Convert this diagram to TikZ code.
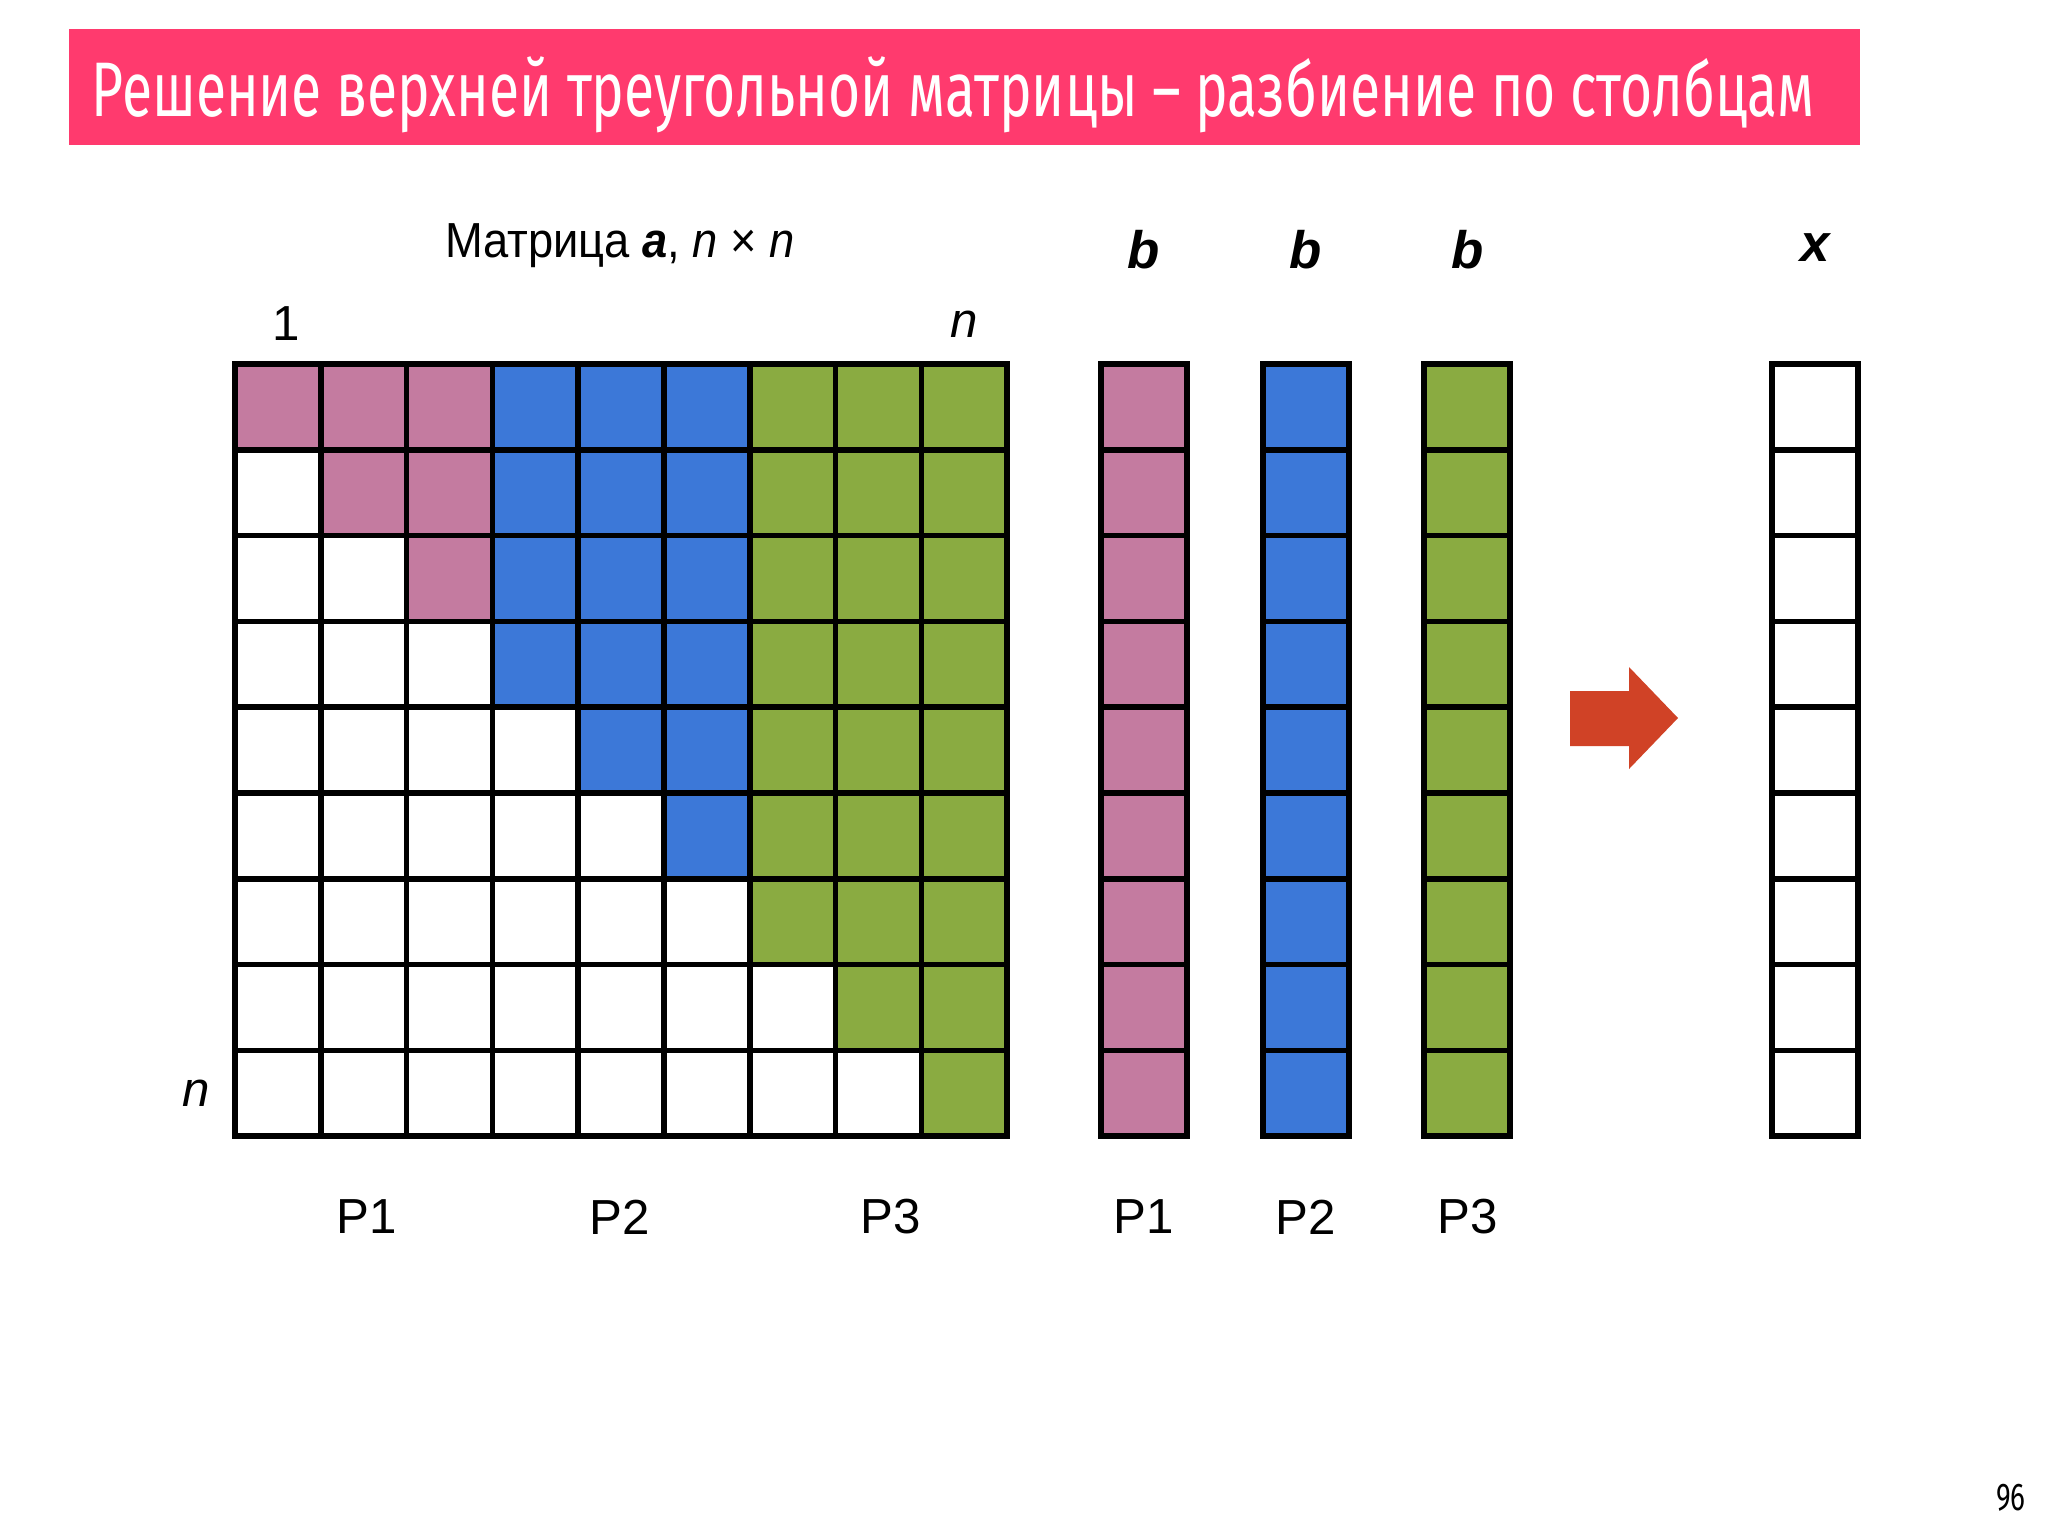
\documentclass[tikz,border=0pt]{standalone}
\usepackage{fontspec}
\setmainfont{Liberation Sans}
\newfontfamily\slidefont{Fira Sans}
\usetikzlibrary{positioning}

\definecolor{titlepink}{HTML}{FF3A6E}
\definecolor{cellpink}{HTML}{C47BA0}
\definecolor{cellblue}{HTML}{3C78D8}
\definecolor{cellgreen}{HTML}{8AAB41}
\definecolor{arrowred}{HTML}{D04226}

\tikzset{
  cell/.style={draw=black, line width=1.6pt},
  lbl/.style={font=\fontsize{14}{16}\selectfont, inner sep=0pt},
  vec/.style={font=\fontsize{15}{17}\selectfont\bfseries\itshape, inner sep=0pt},
}

\begin{document}
\begin{tikzpicture}[x=0.01cm, y=-0.01cm]
    \useasboundingbox (0,0) rectangle (2048,1536);
    \fill[white] (0,0) rectangle (2048,1536);
    \fill[titlepink] (69,29) rectangle (1860,145);
    \node[text=white, anchor=west, inner sep=0pt] (title) at (91,95)
        {\slidefont\fontsize{22}{24}\selectfont\resizebox{490pt}{\height}{Решение верхней треугольной матрицы – разбиение по столбцам}};
    % matrix a
    \foreach \r in {0,...,8}{
        \foreach \c in {0,...,8}{
            \pgfmathtruncatemacro\grp{\c/3}
            \ifnum\c<\r \def\clr{white}\else\ifcase\grp\def\clr{cellpink}\or\def\clr{cellblue}\or\def\clr{cellgreen}\fi\fi
            \filldraw[cell, fill=\clr] (235+85.8*\c, 364+85.8*\r) rectangle +(85.8,85.8);
        }
    }
    % vectors b and x
    \foreach \x/\clr in {1101/cellpink, 1263/cellblue, 1424/cellgreen, 1772/white}{
        \foreach \r in {0,...,8}
            \filldraw[cell, fill=\clr] (\x, 364+85.8*\r) rectangle +(86,85.8);
    }
    \fill[arrowred] (1570,691) -- (1629,691) -- (1629,667) -- (1678,718) -- (1629,769) -- (1629,746) -- (1570,746) -- cycle;
    % labels
    \node[lbl] (mtitle) at (620,246) {\scalebox{0.92}[1]{Матрица \textbf{\textit{a}}, \textit{n} × \textit{n}}};
    \node[lbl] (first) at (286,324) {1};
    \node[lbl] (last) at (964,324) {\textit{n}};
    \node[lbl] (rowlast) at (196,1093) {\textit{n}};
    \node[vec] (b1) at (1144,250) {b};
    \node[vec] (b2) at (1306,250) {b};
    \node[vec] (b3) at (1468,250) {b};
    \node[vec] (xv) at (1815,248) {x};
    \node[lbl] (p1) at (367,1217) {P1};
    \node[lbl] (p2) at (620,1217) {P2};
    \node[lbl] (p3) at (891,1217) {P3};
    \node[lbl] (bp1) at (1144,1217) {P1};
    \node[lbl] (bp2) at (1306,1217) {P2};
    \node[lbl] (bp3) at (1468,1217) {P3};
    \node[inner sep=0pt] (page) at (2011,1498)
        {\slidefont\fontsize{11}{12}\selectfont\scalebox{0.72}[1]{96}};
\end{tikzpicture}
\end{document}
